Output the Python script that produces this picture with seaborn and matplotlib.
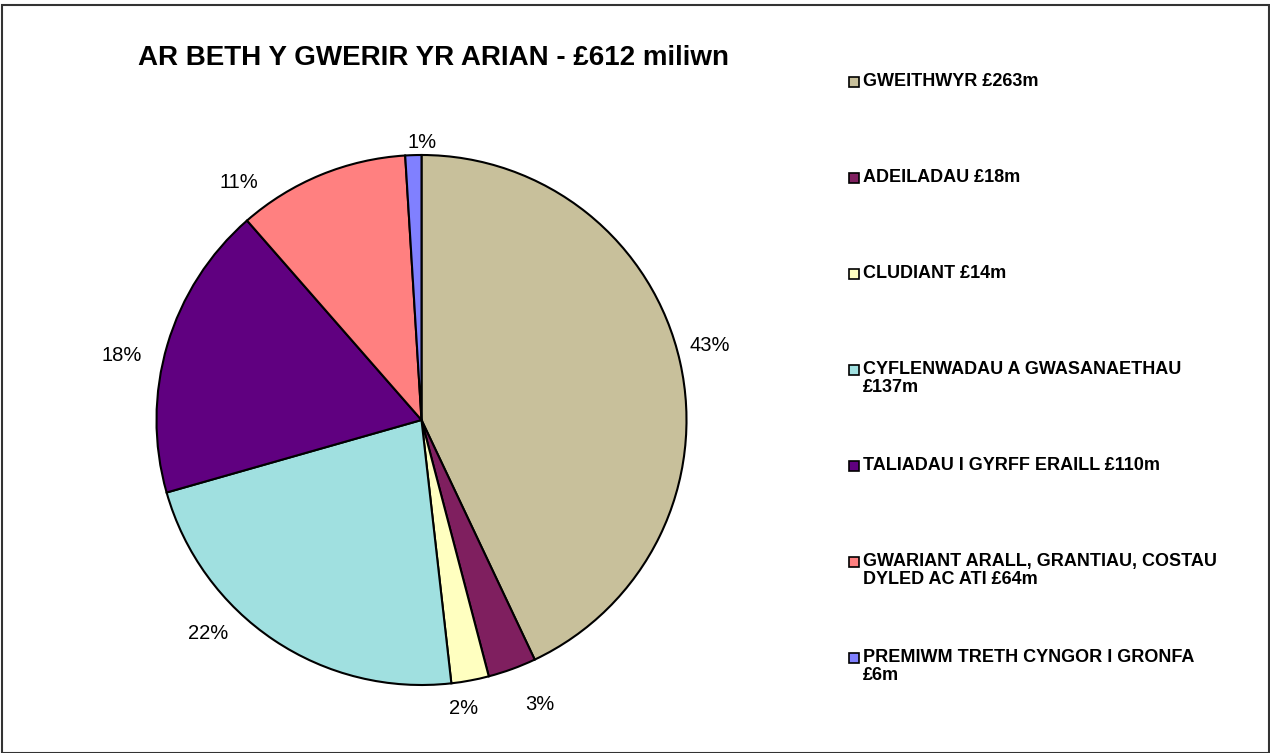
import matplotlib.pyplot as plt
import matplotlib.patches as mpatches
import numpy as np
import seaborn as sns

# spending categories (millions of pounds)
categories = ["GWEITHWYR", "ADEILADAU", "CLUDIANT",
              "CYFLENWADAU A GWASANAETHAU",
              "TALIADAU I GYRFF ERAILL",
              "GWARIANT ARALL, GRANTIAU, COSTAU DYLED AC ATI",
              "PREMIWM TRETH CYNGOR I GRONFA"]
amounts = [263, 18, 14, 137, 110, 64, 6]
# percentages as printed on the chart
percents = [43, 3, 2, 22, 18, 11, 1]
legend_labels = ["GWEITHWYR £263m",
                 "ADEILADAU £18m",
                 "CLUDIANT £14m",
                 "CYFLENWADAU A GWASANAETHAU\n£137m",
                 "TALIADAU I GYRFF ERAILL £110m",
                 "GWARIANT ARALL, GRANTIAU, COSTAU\nDYLED AC ATI £64m",
                 "PREMIWM TRETH CYNGOR I GRONFA\n£6m"]
colors = ["#C8C09B", "#7F1F5F", "#FFFFC0", "#A0E0E0",
          "#600080", "#FF8080", "#8080FF"]
title = "AR BETH Y GWERIR YR ARIAN - £612 miliwn"

sns.set_theme(style="white")
plt.rcParams["font.family"] = ["Liberation Sans", "DejaVu Sans"]
plt.rcParams["text.color"] = "black"

W, H = 1270, 753
fig = plt.figure(figsize=(W / 100, H / 100), dpi=100)

# pie axes: centre (421, 420) px from top, radius ~265 px
R = 265
cx, cy = 421.5, 420
side = 2.5 * R
ax = fig.add_axes([(cx - side / 2) / W, (H - cy - side / 2) / H,
                   side / W, side / H])

pct_labels = [f"{p}%" for p in percents]
wedges, texts = ax.pie(amounts, colors=colors, startangle=90,
                       counterclock=False, labels=pct_labels,
                       labeldistance=1.1,
                       wedgeprops=dict(edgecolor="black", linewidth=1.5),
                       textprops=dict(fontsize=14.5, color="black"))
ax.set_xlim(-1.25, 1.25)
ax.set_ylim(-1.25, 1.25)
ax.set_aspect("equal")
ax.axis("off")

# small nudges (px) so labels sit where the original software put them
nudges = [(4, 11), (19, -11), (-12, -2), (-51, 29), (-20, -18),
          (-72, -32), (10, -14)]
for txt, (dx, dy) in zip(texts, nudges):
    x, y = txt.get_position()
    txt.set_position((x + dx / R, y + dy / R))
    txt.set_ha("center")

fig.text(433 / W, 1 - 58 / H, title, fontsize=20, fontweight="bold",
         ha="center", va="center", color="black")

# legend drawn by hand so the marker sits on the first line
for i, (lab, col) in enumerate(zip(legend_labels, colors)):
    y = 82 + 96 * i
    fig.patches.append(mpatches.Rectangle(
        (849 / W, 1 - (y + 5) / H), 10 / W, 10 / H,
        transform=fig.transFigure, facecolor=col, edgecolor="black",
        linewidth=1.2))
    fig.text(863 / W, 1 - (y - 9) / H, lab, fontsize=13, color="black",
             fontweight="bold", ha="left", va="top", linespacing=1.1)

# outer frame
fig.patches.append(mpatches.Rectangle(
    (2 / W, 0.5 / H), (W - 3) / W, (H - 5) / H, transform=fig.transFigure,
    fill=False, edgecolor="#333333", linewidth=1.5))

fig.savefig("out.png", dpi=100)
